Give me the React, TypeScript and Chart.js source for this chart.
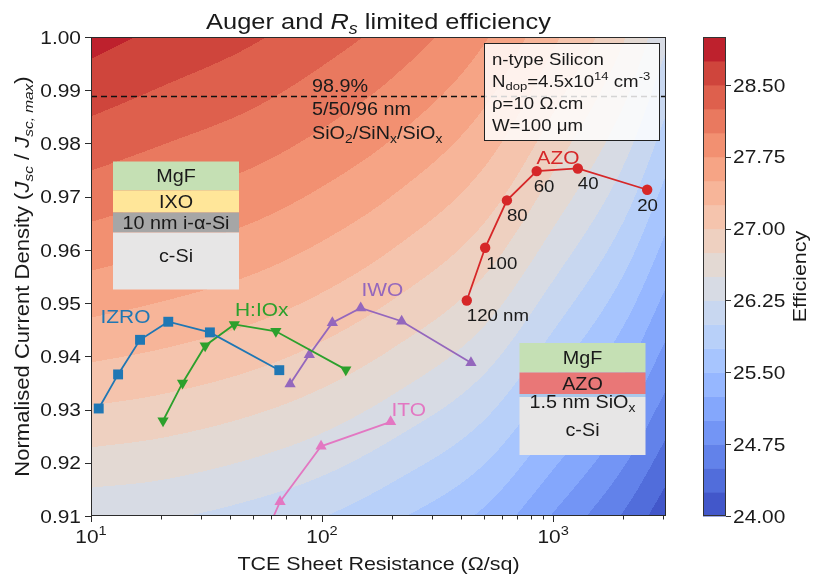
import React, { useEffect, useRef } from 'react';
import { Chart, registerables } from 'chart.js';

Chart.register(...registerables);

// ---------------- data ----------------
const izroR = [10.8, 13.1, 16.3, 21.6, 32.7, 65.3];
const izroJ = [0.9302, 0.9366, 0.9431, 0.9465, 0.9445, 0.9374];

const hioxR = [20.5, 24.9, 31.2, 41.7, 63.1, 126.7];
const hioxJ = [0.9279, 0.935, 0.942, 0.946, 0.9447, 0.9375];

const iwoR = [72.7, 88.1, 110.8, 147, 221, 441];
const iwoJ = [0.9348, 0.9403, 0.9463, 0.9491, 0.9466, 0.9388];

const itoR = [55, 65.8, 99, 198];
const itoJ = [0.905, 0.9127, 0.9231, 0.9277];

const azoR = [423, 508, 631, 849, 1279, 2553];
const azoJ = [0.9505, 0.9604, 0.9693, 0.9748, 0.9753, 0.9713];
const azoThickness = ['120 nm', '100', '80', '60', '40', '20'];

// reference Jsc ratio of the SiO2/SiNx/SiOx stack
const refJ = 0.9888;

// efficiency field (contour background), read along three rows of the picture
const effGridR = [10, 20, 50, 100, 200, 500, 1000, 2000, 3080];
const effGridJ = [0.91, 0.955, 1.0];
const effAtJlow = [26.32, 26.28, 26.15, 26.01, 25.8, 25.45, 24.98, 24.48, 24.08];
const effAtJmid = [27.72, 27.63, 27.49, 27.33, 27.12, 26.75, 26.27, 25.75, 25.3];
const effAtJhigh = [28.84, 28.7, 28.53, 28.36, 28.16, 27.78, 27.3, 26.78, 26.3];
const effLevels = [
  24.0, 24.25, 24.5, 24.75, 25.0, 25.25, 25.5, 25.75, 26.0, 26.25, 26.5,
  26.75, 27.0, 27.25, 27.5, 27.75, 28.0, 28.25, 28.5, 28.75, 29.0,
];
const cbTicks = [24.0, 24.75, 25.5, 26.25, 27.0, 27.75, 28.5];

// axes
const xMin = 10;
const xMax = 3080;
const yMin = 0.91;
const yMax = 1.0;
const yTicks = [0.91, 0.92, 0.93, 0.94, 0.95, 0.96, 0.97, 0.98, 0.99, 1.0];
const xMajorTicks = [10, 100, 1000];
const xMajorExp = ['1', '2', '3'];
const xMinorTicks = [20, 30, 40, 50, 60, 70, 80, 90, 200, 300, 400, 500, 600, 700, 800, 900, 2000, 3000];

// ---------------- styling helpers ----------------
const FONT = '"Liberation Sans", Arial, Helvetica, sans-serif';
const SX = 1.13;
const TXT = '#1a1a1a';

const COOLWARM: number[][] = [
  [59, 76, 192], [68, 90, 204], [77, 104, 215], [87, 117, 225], [98, 130, 234],
  [108, 142, 241], [119, 154, 247], [130, 165, 251], [141, 176, 254], [152, 185, 255],
  [163, 194, 255], [174, 201, 253], [184, 208, 249], [194, 213, 244], [204, 217, 238],
  [213, 219, 230], [221, 221, 221], [229, 216, 209], [236, 211, 197], [241, 204, 185],
  [245, 196, 173], [247, 187, 160], [247, 177, 148], [247, 166, 135], [244, 154, 123],
  [241, 141, 111], [236, 127, 99], [229, 112, 88], [222, 96, 77], [213, 80, 66],
  [203, 62, 56], [192, 40, 47], [180, 4, 38],
];
function coolwarm(t: number): number[] {
  const n = COOLWARM.length - 1;
  const f = Math.max(0, Math.min(1, t)) * n;
  const i = Math.min(Math.floor(f), n - 1);
  const u = f - i;
  return COOLWARM[i].map((c, k) => Math.round(c + (COOLWARM[i + 1][k] - c) * u));
}
const lvLo = effLevels[0];
const lvHi = effLevels[effLevels.length - 1];
const bandColors = effLevels.slice(0, -1).map((lv, i) =>
  coolwarm(((lv + effLevels[i + 1]) / 2 - lvLo) / (lvHi - lvLo))
);
const rgb = (c: number[]) => `rgb(${c[0]},${c[1]},${c[2]})`;

// smooth (monotone cubic Hermite) interpolation along log R
function makeSpline(xs: number[], ys: number[]) {
  const n = xs.length;
  const d: number[] = [];
  for (let i = 0; i < n - 1; i++) d.push((ys[i + 1] - ys[i]) / (xs[i + 1] - xs[i]));
  const m: number[] = new Array(n);
  m[0] = d[0];
  m[n - 1] = d[n - 2];
  for (let i = 1; i < n - 1; i++) {
    m[i] = d[i - 1] * d[i] <= 0 ? 0 : (d[i - 1] + d[i]) / 2;
  }
  return (x: number) => {
    if (x <= xs[0]) return ys[0] + m[0] * (x - xs[0]);
    if (x >= xs[n - 1]) return ys[n - 1] + m[n - 1] * (x - xs[n - 1]);
    let i = 0;
    while (i < n - 2 && x > xs[i + 1]) i++;
    const h = xs[i + 1] - xs[i];
    const t = (x - xs[i]) / h;
    const t2 = t * t;
    const t3 = t2 * t;
    return (
      (2 * t3 - 3 * t2 + 1) * ys[i] +
      (t3 - 2 * t2 + t) * h * m[i] +
      (-2 * t3 + 3 * t2) * ys[i + 1] +
      (t3 - t2) * h * m[i + 1]
    );
  };
}

type Seg = { t: string; sub?: boolean; sup?: boolean; it?: boolean };
function segFont(s: Seg, size: number) {
  const sz = s.sub || s.sup ? size * 0.7 : size;
  return `${s.it ? 'italic ' : ''}${sz}px ${FONT}`;
}
function drawRich(
  ctx: CanvasRenderingContext2D,
  segs: Seg[] | string,
  x: number,
  y: number,
  size: number,
  opts: { align?: 'left' | 'center' | 'right'; color?: string; rotate?: boolean } = {}
) {
  const list: Seg[] = typeof segs === 'string' ? [{ t: segs }] : segs;
  ctx.save();
  ctx.translate(x, y);
  if (opts.rotate) ctx.rotate(-Math.PI / 2);
  ctx.scale(SX, 1);
  ctx.fillStyle = opts.color || TXT;
  ctx.textBaseline = 'alphabetic';
  ctx.textAlign = 'left';
  let w = 0;
  for (const s of list) {
    ctx.font = segFont(s, size);
    w += ctx.measureText(s.t).width;
  }
  let cx = opts.align === 'center' ? -w / 2 : opts.align === 'right' ? -w : 0;
  for (const s of list) {
    ctx.font = segFont(s, size);
    const dy = s.sub ? size * 0.22 : s.sup ? -size * 0.42 : 0;
    ctx.fillText(s.t, cx, dy);
    cx += ctx.measureText(s.t).width;
  }
  ctx.restore();
}

// ---------------- plugins ----------------
const backgroundPlugin = {
  id: 'effField',
  beforeDatasetsDraw(chart: any) {
    const { ctx, chartArea: a, scales } = chart;
    const xs = scales.x;
    const ys = scales.y;
    const dpr = chart.currentDevicePixelRatio || 1;
    const w = Math.round((a.right - a.left) * dpr);
    const h = Math.round((a.bottom - a.top) * dpr);
    const off = document.createElement('canvas');
    off.width = w;
    off.height = h;
    const octx = off.getContext('2d')!;
    const img = octx.createImageData(w, h);
    const lg = effGridR.map((r) => Math.log10(r));
    const rows = [effAtJlow, effAtJmid, effAtJhigh].map((row) => makeSpline(lg, row));
    const cols = rows.map(() => new Float64Array(w));
    for (let i = 0; i < w; i++) {
      const R = xs.getValueForPixel(a.left + (i + 0.5) / dpr);
      const lr = Math.log10(R);
      rows.forEach((f, k) => (cols[k][i] = f(lr)));
    }
    const [j0, j1, j2] = effGridJ;
    const nb = bandColors.length;
    for (let j = 0; j < h; j++) {
      const J = ys.getValueForPixel(a.top + (j + 0.5) / dpr);
      // quadratic (Lagrange) weights through the three rows
      const w0 = ((J - j1) * (J - j2)) / ((j0 - j1) * (j0 - j2));
      const w1 = ((J - j0) * (J - j2)) / ((j1 - j0) * (j1 - j2));
      const w2 = ((J - j0) * (J - j1)) / ((j2 - j0) * (j2 - j1));
      for (let i = 0; i < w; i++) {
        const v = w0 * cols[0][i] + w1 * cols[1][i] + w2 * cols[2][i];
        let b = 0;
        while (b < nb - 1 && v >= effLevels[b + 1]) b++;
        const c = bandColors[b];
        const p = (j * w + i) * 4;
        img.data[p] = c[0];
        img.data[p + 1] = c[1];
        img.data[p + 2] = c[2];
        img.data[p + 3] = 255;
      }
    }
    octx.putImageData(img, 0, 0);
    ctx.save();
    ctx.drawImage(off, a.left, a.top, a.right - a.left, a.bottom - a.top);
    ctx.restore();
  },
};

const overlayPlugin = {
  id: 'overlay',
  afterDatasetsDraw(chart: any) {
    const { ctx, chartArea: a, scales } = chart;
    const xs = scales.x;
    const ys = scales.y;
    const cb = scales.cb;
    ctx.save();

    // frame
    ctx.strokeStyle = '#2b2b2b';
    ctx.lineWidth = 1;
    ctx.strokeRect(a.left + 0.5, a.top + 0.5, a.right - a.left - 1, a.bottom - a.top - 1);

    // y ticks
    const tickSize = 18.5;
    ctx.beginPath();
    for (const v of yTicks) {
      const py = Math.round(ys.getPixelForValue(v)) + 0.5;
      ctx.moveTo(a.left - 6, py);
      ctx.lineTo(a.left, py);
    }
    // x ticks
    for (const v of xMajorTicks) {
      const px = Math.round(xs.getPixelForValue(v)) + 0.5;
      ctx.moveTo(px, a.bottom);
      ctx.lineTo(px, a.bottom + 6);
    }
    for (const v of xMinorTicks) {
      if (v > xMax) continue;
      const px = Math.round(xs.getPixelForValue(v)) + 0.5;
      ctx.moveTo(px, a.bottom);
      ctx.lineTo(px, a.bottom + 3.5);
    }
    ctx.stroke();
    for (const v of yTicks) {
      const py = ys.getPixelForValue(v);
      drawRich(ctx, v.toFixed(2), a.left - 10, py + tickSize * 0.36, tickSize, { align: 'right' });
    }
    xMajorTicks.forEach((v, i) => {
      const px = xs.getPixelForValue(v);
      drawRich(ctx, [{ t: '10' }, { t: xMajorExp[i], sup: true }], px, a.bottom + 27, tickSize, {
        align: 'center',
      });
    });

    // colorbar
    const cbL = a.right + 37;
    const cbW = 23;
    for (let i = 0; i < bandColors.length; i++) {
      const y0 = cb.getPixelForValue(effLevels[i]);
      const y1 = cb.getPixelForValue(effLevels[i + 1]);
      ctx.fillStyle = rgb(bandColors[i]);
      ctx.fillRect(cbL, y1, cbW, y0 - y1 + 0.5);
    }
    ctx.strokeStyle = '#333';
    ctx.strokeRect(cbL + 0.5, cb.top + 0.5, cbW - 1, cb.bottom - cb.top - 1);
    ctx.beginPath();
    for (const v of cbTicks) {
      const py = Math.round(cb.getPixelForValue(v)) + 0.5;
      ctx.moveTo(cbL + cbW, py);
      ctx.lineTo(cbL + cbW + 5, py);
    }
    ctx.stroke();
    for (const v of cbTicks) {
      const py = cb.getPixelForValue(v);
      drawRich(ctx, v.toFixed(2), cbL + cbW + 7, py + tickSize * 0.36, tickSize);
    }
    drawRich(ctx, 'Efficiency', 806, (cb.top + cb.bottom) / 2, 19, { align: 'center', rotate: true });

    // titles
    const cx = (a.left + a.right) / 2;
    drawRich(
      ctx,
      [{ t: 'Auger and ' }, { t: 'R', it: true }, { t: 's', it: true, sub: true }, { t: ' limited efficiency' }],
      cx,
      29,
      22.5,
      { align: 'center' }
    );
    drawRich(ctx, 'TCE Sheet Resistance (Ω/sq)', cx, 570, 19, { align: 'center' });
    drawRich(
      ctx,
      [
        { t: 'Normalised Current Density (' },
        { t: 'J', it: true },
        { t: 'sc', it: true, sub: true },
        { t: ' / ' },
        { t: 'J', it: true },
        { t: 'sc, max', it: true, sub: true },
        { t: ')' },
      ],
      29,
      (a.top + a.bottom) / 2,
      19.5,
      { align: 'center', rotate: true }
    );

    // annotation of the reference stack
    drawRich(ctx, '98.9%', 312, 91.5, 17.5);
    drawRich(ctx, '5/50/96 nm', 312, 115, 17.5);
    drawRich(
      ctx,
      [
        { t: 'SiO' }, { t: '2', sub: true }, { t: '/SiN' }, { t: 'x', sub: true },
        { t: '/SiO' }, { t: 'x', sub: true },
      ],
      312,
      139,
      17.5
    );

    // info box
    ctx.fillStyle = 'rgba(255,255,255,0.82)';
    ctx.fillRect(484, 43, 175, 97);
    ctx.strokeStyle = '#222';
    ctx.lineWidth = 1;
    ctx.strokeRect(484.5, 43.5, 175, 97);
    const bs = 16.5;
    drawRich(ctx, 'n-type Silicon', 492, 64.5, bs);
    drawRich(
      ctx,
      [
        { t: 'N' }, { t: 'dop', sub: true }, { t: '=4.5x10' }, { t: '14', sup: true },
        { t: ' cm' }, { t: '-3', sup: true },
      ],
      492,
      86.5,
      bs
    );
    drawRich(ctx, 'ρ=10 Ω.cm', 492, 109, bs);
    drawRich(ctx, 'W=100 μm', 492, 131, bs);

    // layer stack insets
    const stack = (x: number, w: number, layers: { y0: number; y1: number; c: string }[]) => {
      for (const l of layers) {
        ctx.fillStyle = l.c;
        ctx.fillRect(x, l.y0, w, l.y1 - l.y0);
      }
    };
    stack(113, 126, [
      { y0: 161.5, y1: 190.5, c: '#c5e0b4' },
      { y0: 190.5, y1: 212.5, c: '#ffe699' },
      { y0: 212.5, y1: 232.5, c: '#a6a6a6' },
      { y0: 232.5, y1: 289.5, c: '#e7e6e6' },
    ]);
    const is = 17.5;
    drawRich(ctx, 'MgF', 176, 176 + is * 0.36, is, { align: 'center' });
    drawRich(ctx, 'IXO', 176, 201.5 + is * 0.36, is, { align: 'center' });
    drawRich(ctx, '10 nm i-α-Si', 176, 222.5 + is * 0.36, is, { align: 'center' });
    drawRich(ctx, 'c-Si', 176, 256 + is * 0.36, is, { align: 'center' });

    stack(519.5, 126, [
      { y0: 343, y1: 372.5, c: '#c5e0b4' },
      { y0: 372.5, y1: 394, c: '#e97777' },
      { y0: 394, y1: 397, c: '#a9c8ea' },
      { y0: 397, y1: 455, c: '#e7e6e6' },
    ]);
    drawRich(ctx, 'MgF', 582.5, 357.5 + is * 0.36, is, { align: 'center' });
    drawRich(ctx, 'AZO', 582.5, 383.5 + is * 0.36, is, { align: 'center' });
    drawRich(ctx, [{ t: '1.5 nm SiO' }, { t: 'x', sub: true }], 582.5, 402 + is * 0.36, is, {
      align: 'center',
    });
    drawRich(ctx, 'c-Si', 582.5, 430 + is * 0.36, is, { align: 'center' });

    // series names
    const ls = 18.5;
    drawRich(ctx, 'IZRO', 100.5, 322.5, ls, { color: '#1f77b4' });
    drawRich(ctx, 'H:IOx', 235, 315.5, ls, { color: '#2ca02c' });
    drawRich(ctx, 'IWO', 361.5, 296, ls, { color: '#9467bd' });
    drawRich(ctx, 'ITO', 391.5, 416, ls, { color: '#e377c2' });
    drawRich(ctx, 'AZO', 536.5, 163.5, ls, { color: '#d62728' });

    // AZO thickness labels, anchored to their points
    const dxs = [0, 1, 0, -3, 0, -10];
    azoThickness.forEach((lab, i) => {
      const px = xs.getPixelForValue(azoR[i]);
      const py = ys.getPixelForValue(azoJ[i]);
      drawRich(ctx, lab, px + dxs[i], py + 21, 16.5);
    });

    ctx.restore();
  },
};

// ---------------- component ----------------
const series = [
  { R: izroR, J: izroJ, color: '#1f77b4', style: 'rect', radius: 7, rot: 0 },
  { R: hioxR, J: hioxJ, color: '#2ca02c', style: 'triangle', radius: 6.5, rot: 180 },
  { R: iwoR, J: iwoJ, color: '#9467bd', style: 'triangle', radius: 6.5, rot: 0 },
  { R: itoR, J: itoJ, color: '#e377c2', style: 'triangle', radius: 6.5, rot: 0 },
  { R: azoR, J: azoJ, color: '#d62728', style: 'circle', radius: 5.2, rot: 0 },
];

export default function App() {
  const ref = useRef<HTMLCanvasElement | null>(null);
  useEffect(() => {
    if (!ref.current) return;
    const datasets: any[] = series.map((s) => ({
      data: s.R.map((r, i) => ({ x: r, y: s.J[i] })),
      borderColor: s.color,
      backgroundColor: s.color,
      pointBackgroundColor: s.color,
      pointBorderColor: s.color,
      pointBorderWidth: 0,
      pointStyle: s.style,
      pointRadius: s.radius,
      pointRotation: s.rot,
      borderWidth: 1.8,
      tension: 0,
      showLine: true,
    }));
    datasets.push({
      data: [
        { x: xMin, y: refJ },
        { x: xMax, y: refJ },
      ],
      borderColor: '#111',
      borderDash: [6, 4],
      borderWidth: 1.5,
      pointRadius: 0,
      showLine: true,
    });
    const chart = new Chart(ref.current, {
      type: 'line',
      data: { datasets },
      options: {
        animation: false,
        responsive: false,
        events: [],
        layout: { padding: { left: 91, top: 37, right: 147, bottom: 61 } },
        plugins: { legend: { display: false }, tooltip: { enabled: false }, title: { display: false } },
        scales: {
          x: { type: 'logarithmic', min: xMin, max: xMax, display: false },
          y: { type: 'linear', min: yMin, max: yMax, display: false },
          cb: { type: 'linear', axis: 'y', position: 'right', min: lvLo, max: lvHi, display: false },
        },
      } as any,
      plugins: [backgroundPlugin, overlayPlugin],
    });
    return () => chart.destroy();
  }, []);
  return (
    <div style={{ position: 'fixed', left: 0, top: 0, width: 813, height: 577, background: '#fff' }}>
      <canvas ref={ref} width={813} height={577} style={{ display: 'block', width: 813, height: 577 }} />
    </div>
  );
}
